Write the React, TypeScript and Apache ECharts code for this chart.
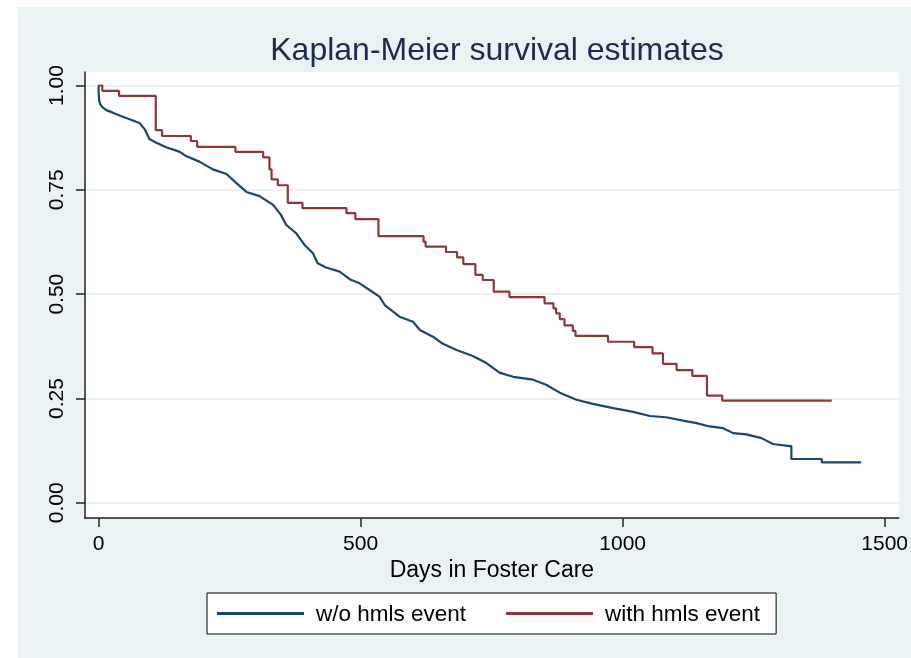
import React, { useEffect, useRef } from "react";
import * as echarts from "echarts";

const titleText = "Kaplan-Meier survival estimates";
const xAxisTitle = "Days in Foster Care";
const seriesNames = ["w/o hmls event", "with hmls event"];
const xTicks = [0, 500, 1000, 1500];
const yTicks = [0, 0.25, 0.5, 0.75, 1];

// w/o hmls event: [day, survival] points along the (dense) KM curve
const withoutEvent: [number, number][] = [
  [0, 1.0], [0, 0.985], [1, 0.965], [3, 0.955], [8, 0.947], [15, 0.941], [27, 0.935],
  [40, 0.928], [59, 0.919], [78, 0.91], [88, 0.895], [97, 0.872], [110, 0.863],
  [129, 0.852], [155, 0.841], [167, 0.831], [193, 0.817], [218, 0.799], [244, 0.788],
  [263, 0.766], [282, 0.745], [307, 0.735], [333, 0.714], [348, 0.69], [358, 0.666],
  [377, 0.646], [393, 0.618], [409, 0.598], [418, 0.574], [434, 0.564], [460, 0.554],
  [479, 0.536], [498, 0.526], [517, 0.51], [536, 0.494], [546, 0.474], [562, 0.458],
  [574, 0.446], [600, 0.434], [613, 0.414], [638, 0.398], [657, 0.381], [683, 0.366],
  [714, 0.352], [740, 0.335], [765, 0.312], [791, 0.302], [829, 0.295], [854, 0.283],
  [880, 0.264], [912, 0.247], [943, 0.237], [982, 0.227], [1020, 0.218], [1052, 0.208],
  [1083, 0.205], [1115, 0.197], [1141, 0.191], [1166, 0.183], [1191, 0.179],
  [1211, 0.167], [1236, 0.164], [1265, 0.155], [1287, 0.141], [1319, 0.136],
  [1322, 0.136], [1322, 0.105], [1380, 0.105], [1380, 0.097], [1455, 0.097],
];

// with hmls event: step points [day, survival after drop]
const withEvent: [number, number][] = [
  [0, 1.0], [7, 0.987], [39, 0.975], [109, 0.893], [121, 0.879], [176, 0.867],
  [188, 0.853], [261, 0.841], [314, 0.828], [326, 0.799], [330, 0.775], [342, 0.761],
  [361, 0.719], [389, 0.706], [473, 0.694], [490, 0.68], [534, 0.639], [620, 0.626],
  [624, 0.614], [663, 0.601], [684, 0.588], [696, 0.572], [719, 0.546], [733, 0.534],
  [754, 0.506], [784, 0.493], [851, 0.478], [868, 0.466], [873, 0.454], [880, 0.44],
  [889, 0.425], [905, 0.412], [910, 0.4], [972, 0.386], [1022, 0.373], [1057, 0.358],
  [1077, 0.333], [1103, 0.318], [1133, 0.304], [1161, 0.257], [1190, 0.245], [1399, 0.245],
];

const FONT = "'Liberation Sans', Arial, sans-serif";
const BLUE = "#1a476f";
const RED = "#90353b";
const BG = "#eaf2f3";

export default function App() {
  const ref = useRef<HTMLDivElement>(null);
  useEffect(() => {
    if (!ref.current) return;
    const chart = echarts.init(ref.current, undefined, { renderer: "svg" });
    chart.setOption({
      animation: false,
      textStyle: { fontFamily: FONT },
      graphic: [
        {
          type: "rect",
          z: -10,
          silent: true,
          shape: { x: 18, y: 7, width: 893, height: 651 },
          style: { fill: BG },
        },
      ],
      title: {
        text: titleText,
        left: 492,
        textAlign: "center",
        top: 28,
        textStyle: { fontFamily: FONT, fontSize: 32, fontWeight: "normal", color: "#1e2b4d" },
      },
      grid: {
        left: 85,
        right: 12,
        top: 72,
        bottom: 140,
        show: true,
        backgroundColor: "#ffffff",
        borderWidth: 0,
        containLabel: false,
      },
      xAxis: {
        type: "value",
        min: -26,
        max: 1527,
        name: xAxisTitle,
        nameLocation: "middle",
        nameGap: 37,
        nameTextStyle: { fontFamily: FONT, fontSize: 23, color: "#000" },
        axisLine: { show: true, onZero: false, lineStyle: { color: "#222", width: 1.5 } },
        axisTick: { show: true, length: 9, customValues: xTicks, lineStyle: { color: "#222", width: 1.5 } },
        axisLabel: {
          customValues: xTicks,
          fontSize: 21,
          color: "#000",
          margin: 14,
          fontFamily: FONT,
          formatter: (v: number) => String(v),
        },
        splitLine: { show: false },
      },
      yAxis: {
        type: "value",
        min: -0.0364,
        max: 1.0324,
        axisLine: { show: true, onZero: false, lineStyle: { color: "#222", width: 1.5 } },
        axisTick: { show: true, length: 9, customValues: yTicks, lineStyle: { color: "#222", width: 1.5 } },
        axisLabel: {
          customValues: yTicks,
          rotate: 90,
          fontSize: 21,
          color: "#000",
          margin: 19,
          fontFamily: FONT,
          formatter: (v: number) => v.toFixed(2),
        },
        splitLine: { show: true, lineStyle: { color: BG, width: 2 } },
      },
      legend: {
        left: 207,
        top: 593,
        orient: "horizontal",
        backgroundColor: "#ffffff",
        borderColor: "#000",
        borderWidth: 1,
        borderRadius: 0,
        padding: [9, 16, 9, 10],
        itemWidth: 87,
        itemHeight: 3,
        itemGap: 40,
        icon: "rect",
        textStyle: { fontFamily: FONT, fontSize: 22.5, color: "#000", padding: [0, 0, 0, 7] },
        data: seriesNames,
      },
      series: [
        {
          name: seriesNames[0],
          type: "line",
          data: withoutEvent,
          showSymbol: false,
          symbol: "none",
          lineStyle: { color: BLUE, width: 2.2 },
          itemStyle: { color: BLUE },
        },
        {
          name: seriesNames[1],
          type: "line",
          step: "end",
          data: withEvent,
          showSymbol: false,
          symbol: "none",
          lineStyle: { color: RED, width: 2.2 },
          itemStyle: { color: RED },
        },
      ],
    });
    return () => chart.dispose();
  }, []);
  return <div ref={ref} style={{ position: "fixed", left: 0, top: 0, width: 911, height: 658 }} />;
}
